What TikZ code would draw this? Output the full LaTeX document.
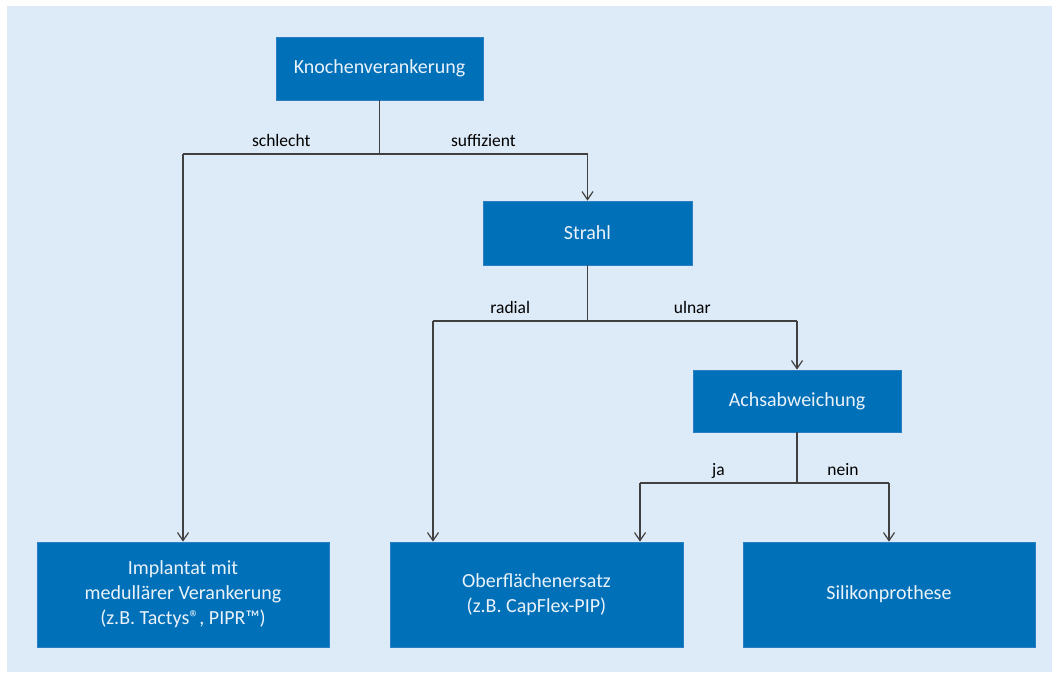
\documentclass[tikz,border=0pt]{standalone}
\usepackage{fontspec}
\setmainfont{Carlito}
\usetikzlibrary{arrows.meta}
\definecolor{bgblue}{HTML}{DDEAF7}
\definecolor{boxblue}{HTML}{0070B8}
\definecolor{boxedge}{HTML}{2A7FC4}
\definecolor{boxtext}{HTML}{EAF2FA}
\definecolor{linegray}{HTML}{404040}
\tikzset{
  box/.style={rectangle, fill=boxblue, draw=boxedge, line width=0.8pt, text=boxtext,
    font=\fontsize{20}{25}\selectfont, align=center, inner sep=0pt},
  conn/.style={draw=linegray, line width=1.3pt},
  arr/.style={conn, -{Straight Barb[length=8pt,width=11pt,line width=1.2pt]}},
  lbl/.style={font=\fontsize{17.5}{20}\selectfont, text=black, anchor=base, yshift=8pt, inner sep=0pt}
}
\begin{document}
\begin{tikzpicture}[x=1pt,y=-1pt]
\useasboundingbox (0,0) rectangle (1052,672);
\fill[white] (0,0) rectangle (1052,672);
\fill[bgblue] (7,6) rectangle (1052,672);

\node[box, minimum width=207pt, minimum height=63pt] (K) at (379.5,68.5) {Knochenverankerung};
\node[box, minimum width=209pt, minimum height=64pt] (S) at (587.5,233) {Strahl};
\node[box, minimum width=208pt, minimum height=62pt] (A) at (797,401) {Achsabweichung};
\node[box, minimum width=292pt, minimum height=105pt] (I) at (183,594.5) {Implantat mit\\medullärer Verankerung\\(z.B. Tactys®, PIPR™)};
\node[box, minimum width=293pt, minimum height=105pt] (O) at (536.5,594.5) {Oberflächenersatz\\(z.B. CapFlex-PIP)};
\node[box, minimum width=292pt, minimum height=105pt] (Si) at (889,594.5) {Silikonprothese};

% level 1
\coordinate (k1) at (K.south |- 0,154);
\coordinate (kl) at (I.north |- k1);
\coordinate (kr) at (S.north |- k1);
\draw[conn] (K.south) -- (k1);
\draw[conn] (k1) -- node[lbl]{schlecht} (kl);
\draw[conn] (k1) -- node[lbl]{suffizient} (kr);
\draw[arr] (kl) -- (I.north);
\draw[arr] (kr) -- (S.north);

% level 2
\coordinate (s1) at (S.south |- 0,321);
\coordinate (sl) at (433,321);
\coordinate (sr) at (A.north |- s1);
\draw[conn] (S.south) -- (s1);
\draw[conn] (s1) -- node[lbl]{radial} (sl);
\draw[conn] (s1) -- node[lbl]{ulnar} (sr);
\draw[arr] (sl) -- (sl |- O.north);
\draw[arr] (sr) -- (A.north);

% level 3
\coordinate (a1) at (A.south |- 0,483);
\coordinate (al) at (640,483);
\coordinate (ar) at (Si.north |- a1);
\draw[conn] (A.south) -- (a1);
\draw[conn] (a1) -- node[lbl]{ja} (al);
\draw[conn] (a1) -- node[lbl]{nein} (ar);
\draw[arr] (al) -- (al |- O.north);
\draw[arr] (ar) -- (Si.north);
\end{tikzpicture}
\end{document}
